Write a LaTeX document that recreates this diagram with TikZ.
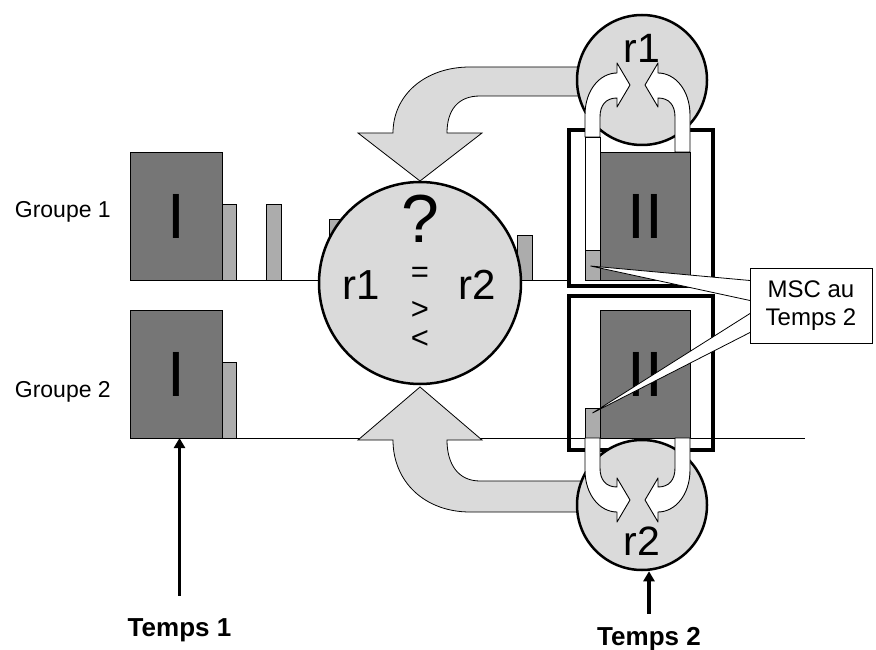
\documentclass[tikz,border=0pt]{standalone}
\usepackage{fontspec}
\setmainfont{Liberation Sans}
\usetikzlibrary{arrows.meta,positioning,calc}
\definecolor{boxDark}{RGB}{118,118,118}
\definecolor{discLight}{RGB}{218,218,218}
\definecolor{hatchGray}{RGB}{172,172,172}

\begin{document}
\begin{tikzpicture}[
        x=1pt, y=-1pt,
        groupline/.style={line width=0.8pt, color=black},
        darkbox/.style={draw=black, fill=boxDark, line width=0.9pt, inner sep=0pt, outer sep=0pt, anchor=south west, font=\fontsize{64pt}{64pt}\selectfont},
        hatchbar/.style={draw=black, fill=hatchGray, line width=0.8pt, inner sep=0pt, outer sep=0pt, anchor=south west},
        whitestrip/.style={draw=black, fill=white, line width=0.8pt, inner sep=0pt, outer sep=0pt, anchor=south west},
        timeframe/.style={draw=black, line width=4.5pt, inner sep=0pt, outer sep=0pt, anchor=north west},
        disc/.style={circle, draw=black, fill=discLight, line width=2.5pt, inner sep=0pt},
        bigturn/.style={draw=black, fill=discLight, line width=0.8pt},
        bendshape/.style={draw=black, fill=white, line width=0.9pt, line join=round},
        mscwedge/.style={draw=black, fill=white, line width=0.8pt},
        mscbox/.style={draw=black, fill=white, line width=0.8pt, align=center, minimum width=122pt, minimum height=75pt, font=\fontsize{24pt}{28pt}\selectfont},
        grplabel/.style={font=\fontsize{23pt}{27pt}\selectfont, inner sep=0pt, anchor=base east},
        timelabel/.style={font=\fontsize{26pt}{30pt}\selectfont\bfseries, inner sep=0pt, anchor=base},
        bigtext/.style={inner sep=0pt},
        relsign/.style={inner sep=0pt, font=\fontsize{31pt}{31pt}\selectfont},
        timearrow/.style={-{Triangle[length=10pt, width=11pt]}, line width=3.5pt},
        pics/uarrow/.style={code={
            \draw[bendshape] (-45,#1) -- (-45,30) .. controls (-45,5) and (-30,-12) .. (-13,-12)
                -- (-13,-22) -- (0,0) -- (-13,22) -- (-13,13)
                .. controls (-24,13) and (-30,20) .. (-30,32) -- (-30,#1) -- cycle;
        }}
    ]
        \useasboundingbox (0,0) rectangle (876,650);

        % Groupe 1 at time 1
        \node[darkbox, minimum width=92pt, minimum height=128pt] (gA) at (130,280) {I};
        \draw[groupline] (gA.south west) -- (569,280);
        \node[hatchbar, minimum width=14pt, minimum height=76pt] (a1) at (gA.south east) {};
        \node[hatchbar, minimum width=15pt, minimum height=76pt] (a2) at (266,280) {};
        \node[hatchbar, minimum width=15pt, minimum height=61pt] (a3) at (329,280) {};
        \node[hatchbar, minimum width=15pt, minimum height=45pt] (a4) at (517,280) {};
        \node[grplabel] (lA) at (111,218) {Groupe 1};

        % Groupe 2 at time 1
        \node[darkbox, minimum width=92pt, minimum height=128pt] (gB) at (130,438) {I};
        \draw[groupline] (gB.south west) -- (805,438);
        \node[hatchbar, minimum width=14pt, minimum height=76pt] (b1) at (gB.south east) {};
        \node[grplabel] (lB) at (111,397) {Groupe 2};

        % both groups at time 2
        \node[timeframe, minimum width=144pt, minimum height=156pt] (fA) at (569,130) {};
        \node[timeframe, minimum width=144pt, minimum height=154pt] (fB) at (569,296) {};
        \node[darkbox, minimum width=90pt, minimum height=128pt] (hA) at (600,280) {II};
        \node[darkbox, minimum width=90pt, minimum height=128pt] (hB) at (600,438) {II};
        \node[whitestrip, minimum width=15pt, minimum height=113pt] (wA) at (585,250) {};
        \node[hatchbar, minimum width=15pt, minimum height=30pt] (mA) at (585,280) {};
        \node[hatchbar, minimum width=15pt, minimum height=30pt] (mB) at (585,438) {};

        % r1 and r2 fed back to the comparison
        \draw[bigturn] (600,67) -- (470,67) .. controls (425,67) and (393,95) .. (393,133)
            -- (358,133) -- (420,181) -- (482,133) -- (447,133)
            .. controls (447,110) and (458,96) .. (480,96) -- (600,96) -- cycle;
        \draw[bigturn] (600,512) -- (470,512) .. controls (425,512) and (393,482) .. (393,440)
            -- (358,440) -- (420,387) -- (482,440) -- (447,440)
            .. controls (447,464) and (458,481) .. (480,481) -- (600,481) -- cycle;

        % comparison
        \node[disc, minimum size=202pt] (cmp) at (420,283) {};
        \node[bigtext, font=\fontsize{68pt}{68pt}\selectfont] (qm) at ($(cmp)+(0,-64)$) {?};
        \node[bigtext, font=\fontsize{42pt}{42pt}\selectfont] (cr1) at ($(cmp)+(-59,2)$) {r1};
        \node[bigtext, font=\fontsize{42pt}{42pt}\selectfont] (cr2) at ($(cmp)+(57,2)$) {r2};
        \node[relsign] (eq) at ($(cmp)+(0,-8)$) {=};
        \node[relsign] (gt) at ($(cmp)+(0,27)$) {>};
        \node[relsign] (lt) at ($(cmp)+(0,56)$) {<};

        % r1 / r2 taken from the two groups
        \node[disc, minimum size=130pt] (rA) at (642,80) {};
        \node[disc, minimum size=130pt] (rB) at (642,505) {};
        \pic at (630,85) {uarrow=52};
        \pic[xscale=-1] at (645,85) {uarrow=67};
        \pic[yscale=-1] at (630,500) {uarrow=62};
        \pic[xscale=-1, yscale=-1] at (645,500) {uarrow=62};
        \node[bigtext, font=\fontsize{41pt}{41pt}\selectfont] (ra) at ($(rA)+(0,-32)$) {r1};
        \node[bigtext, font=\fontsize{41pt}{41pt}\selectfont] (rb) at ($(rB)+(0,36)$) {r2};

        % callout
        \coordinate (mscpos) at (811,305.5);
        \draw[mscwedge] ($(mscpos)+(-61,-25)$) -- ($(mA.center)+(-2,1)$) -- ($(mscpos)+(-61,-5)$);
        \draw[mscwedge] ($(mscpos)+(-61,8)$) -- ($(mB.center)+(0,-10)$) -- ($(mscpos)+(-61,27)$);
        \node[mscbox] (msc) at (mscpos) {MSC au\\Temps 2};

        % time marks
        \node[timelabel] (t1) at (179.5,636) {Temps 1};
        \node[timelabel] (t2) at (649,645) {Temps 2};
        \draw[timearrow] ([yshift=22pt]t1.north) -- (t1.north |- gB.south);
        \draw[timearrow] ([yshift=13pt]t2.north) -- (t2.north |- rB.south);
    \end{tikzpicture}
\end{document}
